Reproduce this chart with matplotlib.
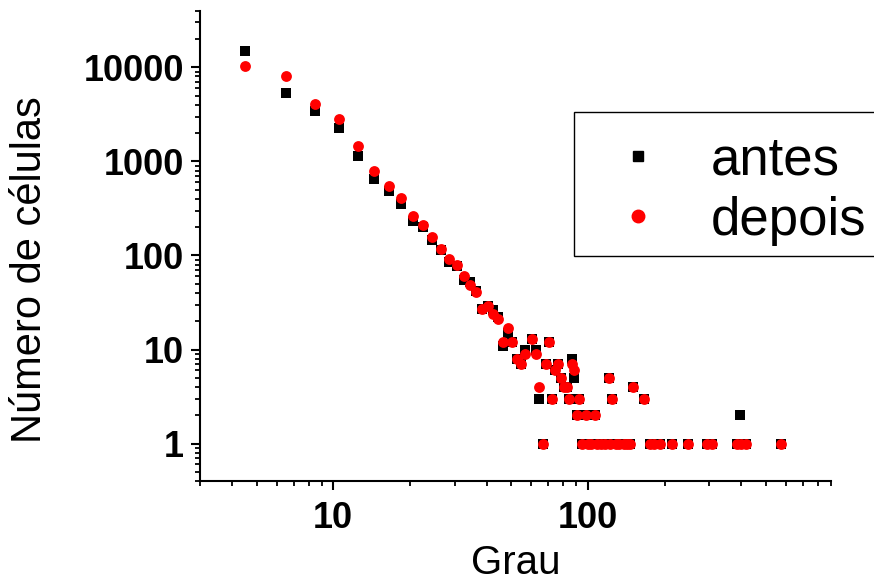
import matplotlib
matplotlib.use("Agg")
import matplotlib.pyplot as plt
from matplotlib.ticker import LogLocator, NullFormatter, FixedLocator, FixedFormatter
from matplotlib.lines import Line2D
from matplotlib.patches import Rectangle

plt.rcParams['font.family'] = ['Liberation Sans', 'DejaVu Sans']

# degree bins (bin centres) and number of cells, before and after
grau_antes = [4.5, 6.5, 8.5, 10.5, 12.5, 14.5, 16.5, 18.5, 20.5, 22.5, 24.5, 26.5,
              28.5, 30.5, 32.5, 34.5, 36.5, 38.5, 40.5, 42.5, 44.5, 46.5, 48.5, 50.5,
              52.5, 54.5, 56.5, 60.5, 62.5, 64.5, 66.5, 68.5, 70.5, 72.5, 74.5, 76.5,
              78.5, 80.5, 82.5, 84.5, 86.5, 88.5, 90.5, 92.5, 94.5, 98.5, 100.5, 102.5,
              106.5, 108.5, 112.5, 116.5, 120.5, 122.5, 124.5, 128.5, 132.5, 138.5,
              142.5, 146.5, 150.5, 166.5, 174.5, 182.5, 192.5, 214.5, 246.5, 292.5,
              306.5, 384.5, 394.5, 418.5, 570.5]
celulas_antes = [15000, 5300, 3400, 2250, 1150, 650, 490, 355, 235, 200, 145, 114,
                 86, 78, 55, 52, 42, 27, 29, 26, 22, 11, 15, 12,
                 8, 7, 10, 13, 10, 3, 1, 7, 12, 3, 6, 7,
                 5, 4, 4, 3, 8, 5, 2, 3, 1, 2, 1, 1,
                 2, 1, 1, 1, 5, 1, 3, 1, 1, 1,
                 1, 1, 4, 3, 1, 1, 1, 1, 1, 1,
                 1, 1, 2, 1, 1]

grau_depois = [4.5, 6.5, 8.5, 10.5, 12.5, 14.5, 16.5, 18.5, 20.5, 22.5, 24.5, 26.5,
               28.5, 30.5, 32.5, 34.5, 36.5, 38.5, 40.5, 42.5, 44.5, 46.5, 48.5, 50.5,
               52.5, 54.5, 56.5, 60.5, 62.5, 64.5, 66.5, 68.5, 70.5, 72.5, 74.5, 76.5,
               78.5, 80.5, 82.5, 84.5, 86.5, 88.5, 90.5, 92.5, 94.5, 98.5, 100.5, 102.5,
               106.5, 108.5, 112.5, 116.5, 120.5, 122.5, 124.5, 128.5, 132.5, 138.5,
               142.5, 146.5, 150.5, 166.5, 174.5, 182.5, 192.5, 214.5, 246.5, 292.5,
               306.5, 384.5, 400.5, 418.5, 570.5]
celulas_depois = [10300, 8100, 4050, 2800, 1450, 800, 550, 410, 265, 210, 158, 117,
                  91, 80, 61, 49, 41, 27, 29, 24, 21, 12, 17, 12,
                  8, 7, 9, 13, 9, 4, 1, 7, 12, 3, 6, 7,
                  5, 4, 4, 3, 7, 6, 2, 3, 1, 2, 1, 1,
                  2, 1, 1, 1, 5, 1, 3, 1, 1, 1,
                  1, 1, 4, 3, 1, 1, 1, 1, 1, 1,
                  1, 1, 1, 1, 1]

x_ticks = [10, 100]
x_ticklabels = ["10", "100"]
y_ticks = [1, 10, 100, 1000, 10000]
y_ticklabels = ["1", "10", "100", "1000", "10000"]

W, H = 874, 581
fig = plt.figure(figsize=(W / 100, H / 100), dpi=100)
ax = fig.add_axes([200 / W, 1 - 481 / H, 631 / W, 470.3 / H])

ax.scatter(grau_antes, celulas_antes, marker='s', s=7.4 ** 2, color='black',
           linewidths=0, zorder=3, label='antes')
ax.scatter(grau_depois, celulas_depois, marker='o', s=7.8 ** 2, color='#ff0000',
           linewidths=0, zorder=4, label='depois')

ax.set_xscale('log')
ax.set_yscale('log')
ax.set_xlim(3, 900)
ax.set_ylim(0.4, 40000)

ax.xaxis.set_major_locator(FixedLocator(x_ticks))
ax.xaxis.set_major_formatter(FixedFormatter(x_ticklabels))
ax.yaxis.set_major_locator(FixedLocator(y_ticks))
ax.yaxis.set_major_formatter(FixedFormatter(y_ticklabels))
ax.xaxis.set_minor_locator(LogLocator(base=10, subs=range(2, 10), numticks=20))
ax.yaxis.set_minor_locator(LogLocator(base=10, subs=range(2, 10), numticks=20))
ax.xaxis.set_minor_formatter(NullFormatter())
ax.yaxis.set_minor_formatter(NullFormatter())

for side in ('top', 'right'):
    ax.spines[side].set_visible(False)
for side in ('left', 'bottom'):
    ax.spines[side].set_linewidth(1.5)

ax.tick_params(which='major', direction='out', length=6.5, width=1.5,
               labelsize=26)
ax.tick_params(which='minor', direction='out', length=3.8, width=1.3)
ax.tick_params(axis='y', which='major', pad=5)
ax.tick_params(axis='x', which='major', pad=8)
for lab in ax.get_xticklabels() + ax.get_yticklabels():
    lab.set_fontweight('bold')

ax.set_xlabel('Grau', fontsize=29)
ax.set_ylabel('Número de células', fontsize=30)
ax.xaxis.set_label_coords(0.5, -0.135)
ax.yaxis.set_label_coords(-0.237, 0.45)

# legend box drawn as a plain rectangle so the entries can sit freely inside it
ax.add_patch(Rectangle((574 / W, 1 - 256 / H), 310 / W, 144 / H,
                       transform=fig.transFigure, facecolor='white',
                       edgecolor='black', linewidth=1.0, zorder=5,
                       clip_on=False))

handles = [
    Line2D([], [], marker='s', linestyle='none', color='black', markersize=7.4),
    Line2D([], [], marker='o', linestyle='none', color='#ff0000', markersize=9),
]
leg = ax.legend(handles, ['antes', 'depois'], loc='upper left',
                bbox_to_anchor=(574 / W, 1 - 119 / H),
                bbox_transform=fig.transFigure, borderaxespad=0,
                fontsize=38, frameon=False, borderpad=0.32, labelspacing=0.19,
                handlelength=1.78, handletextpad=0.5)
leg.set_zorder(6)

fig.savefig('out.png', dpi=100)
